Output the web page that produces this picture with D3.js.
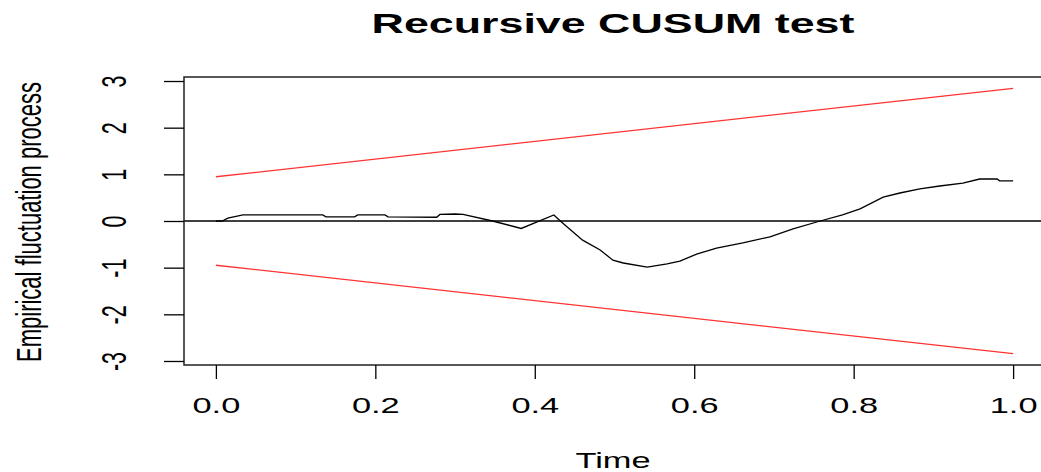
<!DOCTYPE html>
<html lang="en">
<head>
    <meta charset="UTF-8">
    <title>Recursive CUSUM test</title>
    <script src="https://d3js.org/d3.v7.min.js"></script>
    <style>
        body { margin: 0; background: #fff; }
        text { font-family: "Liberation Sans", Arial, sans-serif; fill: #000; }
    </style>
</head>
<body>
    <div id="chart"></div>
    <script>
        // values
        var timeValues = [0, 0.008, 0.015, 0.034, 0.134, 0.138, 0.174, 0.178, 0.212, 0.216, 0.277, 0.281, 0.300, 0.310,
            0.347, 0.383, 0.424, 0.432, 0.460, 0.482, 0.498, 0.511, 0.541, 0.566, 0.582, 0.603, 0.628, 0.661, 0.695,
            0.724, 0.758, 0.786, 0.808, 0.837, 0.858, 0.883, 0.908, 0.937, 0.958, 0.980, 0.983, 1.0];
        var processValues = [0, 0, 0.06, 0.13, 0.13, 0.09, 0.09, 0.13, 0.13, 0.09, 0.08, 0.14, 0.15, 0.14,
            0, -0.16, 0.13, 0, -0.41, -0.62, -0.84, -0.90, -0.99, -0.92, -0.86, -0.71, -0.58, -0.47, -0.34,
            -0.17, 0, 0.13, 0.26, 0.51, 0.60, 0.69, 0.75, 0.81, 0.90, 0.90, 0.86, 0.86];
        var boundTime = [0, 1];
        var upperBound = [0.948, 2.844];
        var lowerBound = [-0.948, -2.844];
        var xTicks = [0, 0.2, 0.4, 0.6, 0.8, 1.0];
        var yTicks = [-3, -2, -1, 0, 1, 2, 3];

        var width = 1041, height = 472;
        var stretch = 1.6; // reference text is wide
        var box = {left: 184, right: 1045, top: 77, bottom: 365};

        var svg = d3.select("#chart").append("svg")
            .attr("width", width)
            .attr("height", height);

        var xScale = d3.scaleLinear().domain([-0.04, 1.04]).range([box.left, box.right]);
        var yScale = d3.scaleLinear().domain([-3.086, 3.086]).range([box.bottom, box.top]);

        var line = d3.line()
            .x(function(d) { return xScale(d[0]); })
            .y(function(d) { return yScale(d[1]); });

        // zero line
        svg.append("line")
            .attr("x1", box.left).attr("x2", box.right)
            .attr("y1", yScale(0)).attr("y2", yScale(0))
            .attr("stroke", "#000").attr("stroke-width", 1.3);

        // boundaries
        svg.append("path")
            .datum(d3.zip(boundTime, upperBound))
            .attr("d", line).attr("fill", "none")
            .attr("stroke", "#ff3333").attr("stroke-width", 1.3);
        svg.append("path")
            .datum(d3.zip(boundTime, lowerBound))
            .attr("d", line).attr("fill", "none")
            .attr("stroke", "#ff3333").attr("stroke-width", 1.3);

        // process
        svg.append("path")
            .datum(d3.zip(timeValues, processValues))
            .attr("d", line).attr("fill", "none")
            .attr("stroke", "#000").attr("stroke-width", 1.3);

        // box
        svg.append("rect")
            .attr("x", box.left).attr("y", box.top)
            .attr("width", box.right - box.left).attr("height", box.bottom - box.top)
            .attr("fill", "none").attr("stroke", "#222").attr("stroke-width", 1.5);

        // axes
        var xAxis = svg.append("g")
            .attr("transform", "translate(0," + box.bottom + ")")
            .call(d3.axisBottom(xScale).tickValues(xTicks).tickSize(14).tickFormat(function(d) { return d.toFixed(1); }));
        xAxis.select(".domain").remove();
        xAxis.selectAll("line").attr("stroke", "#000").attr("stroke-width", 1.3);
        xAxis.selectAll("text")
            .attr("y", 0).attr("dy", 0)
            .attr("transform", "translate(0,48) scale(" + stretch + ",1)")
            .style("font-size", "21.5px");

        var yAxis = svg.append("g")
            .attr("transform", "translate(" + box.left + ",0)")
            .call(d3.axisLeft(yScale).tickValues(yTicks).tickSize(20).tickFormat(function(d) { return String(d); }));
        yAxis.select(".domain").remove();
        yAxis.selectAll("line").attr("stroke", "#000").attr("stroke-width", 1.3);
        yAxis.selectAll("text")
            .attr("x", 0).attr("dy", 0)
            .attr("text-anchor", "middle")
            .attr("transform", "translate(-58,0) scale(" + stretch + ",1) rotate(-90)")
            .style("font-size", "21.5px");

        // titles
        svg.append("text")
            .attr("transform", "translate(613,33) scale(" + stretch + ",1)")
            .attr("text-anchor", "middle")
            .style("font-size", "28px").style("font-weight", "bold")
            .text("Recursive CUSUM test");

        svg.append("text")
            .attr("transform", "translate(613,468) scale(" + stretch + ",1)")
            .attr("text-anchor", "middle")
            .style("font-size", "21.5px")
            .text("Time");

        svg.append("text")
            .attr("transform", "translate(41,222) scale(" + stretch + ",1) rotate(-90)")
            .attr("text-anchor", "middle")
            .style("font-size", "22px")
            .text("Empirical fluctuation process");
    </script>
</body>
</html>
